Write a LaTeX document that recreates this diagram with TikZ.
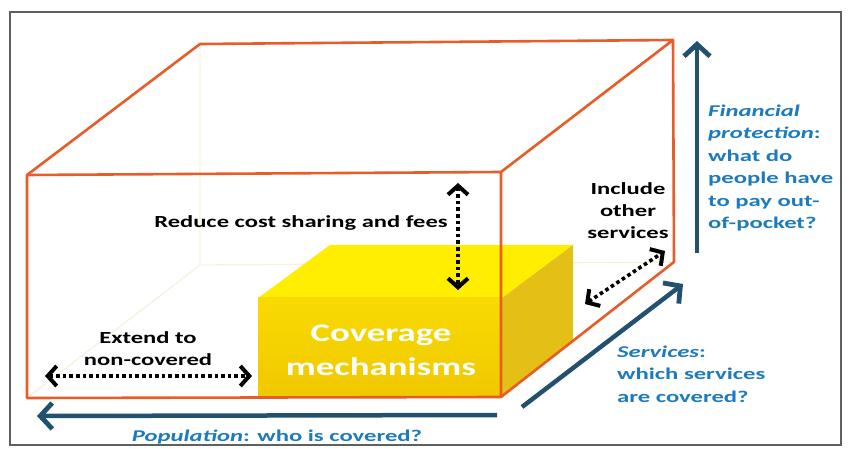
\documentclass[tikz,border=0pt]{standalone}
\usepackage{fontspec}
\setmainfont{Carlito}
\newfontfamily\wf[FakeStretch=1.45]{Carlito}
\newfontfamily\wfb[FakeStretch=1.5]{Carlito}
\usetikzlibrary{arrows.meta}
\definecolor{boxorange}{RGB}{232,92,40}
\definecolor{faint}{RGB}{246,241,222}
\definecolor{arrowblue}{RGB}{33,80,112}
\definecolor{textblue}{RGB}{28,122,190}
\definecolor{ytop}{RGB}{255,238,0}
\definecolor{yfront}{RGB}{248,218,0}
\definecolor{yfrontb}{RGB}{240,200,0}
\definecolor{yside}{RGB}{228,192,22}
\definecolor{framegray}{RGB}{95,95,95}
\begin{document}
\begin{tikzpicture}[x=1bp,y=-1bp,
  boxline/.style={draw=boxorange,line width=2.6bp,line join=round},
  hidden/.style={draw=faint,line width=1.3bp},
  dotarrow/.style={line width=3.6bp,dash pattern=on 3.6bp off 3bp,
    {Straight Barb[length=9bp,width=20bp,line width=4bp]}-{Straight Barb[length=9bp,width=20bp,line width=4bp]}},
  bluearrow/.style={draw=arrowblue,line width=4.5bp,-{Straight Barb[length=12bp,width=26bp,line width=4.8bp]}},
  blacklabel/.style={font=\wf\bfseries\fontsize{17}{22}\selectfont,align=center,inner sep=0pt},
  bluelabel/.style={font=\wfb\bfseries\fontsize{16.5}{22.5}\selectfont,text=textblue,align=left,inner sep=0pt}
]
\useasboundingbox (0,0) rectangle (850,449);
% outer frame
\draw[framegray,line width=1.2bp] (10,12) rectangle (841,445);
% box corners
\coordinate (FTL) at (27,175);
\coordinate (FTR) at (501,172);
\coordinate (FBL) at (27,398);
\coordinate (FBR) at (501,397);
\coordinate (BTL) at (200,44);
\coordinate (BTR) at (673,40);
\coordinate (BBR) at (674,262);
\coordinate (BBL) at (200,265);
% hidden edges
\draw[hidden] (BTL) -- (BBL) -- (BBR);
\draw[hidden] (BBL) -- (FBL);
% block
\fill[ytop] (258,298) -- (330,245) -- (573,245) -- (502,298) -- cycle;
\shade[top color=yfront,bottom color=yfrontb] (258,298) rectangle (502,397);
\fill[yside] (502,298) -- (573,245) -- (573,341) -- (502,397) -- cycle;
% box visible edges
\draw[boxline] (FTL) -- (BTL) -- (BTR) -- (FTR);
\draw[boxline] (BTR) -- (BBR) -- (FBR);
\draw[boxline] (FTL) -- (FTR) -- (FBR) -- (FBL) -- cycle;
% texts
\node[blacklabel] (reduce) at (301,223) {Reduce cost sharing and fees};
\node[blacklabel] (include) at (628,211) {Include\\other\\services};
\node[blacklabel] (extend) at (148,349) {Extend to\\non-covered};
\node[font=\wf\bfseries\fontsize{25.5}{34}\selectfont,text=white,align=center,inner sep=0pt] (coverage) at (381,350) {Coverage\\mechanisms};
\node[bluelabel] (population) at (277,437) {\itshape Population\upshape: who is covered?};
\node[bluelabel,anchor=west] (services) at (617,374) {\itshape Services\upshape:\\which services\\are covered?};
\node[bluelabel,anchor=west] (financial) at (708,168) {\itshape Financial\\\itshape protection\upshape:\\what do\\people have\\to pay out-\\of-pocket?};
% dotted double arrows
\coordinate (rdA) at (458,183);
\coordinate (rdB) at (458,290);
\draw[dotarrow] (rdA) -- (rdB);
\coordinate (exA) at (45,376);
\coordinate (exB) at (252,376);
\draw[dotarrow] (exA) -- (exB);
\coordinate (inA) at (585,304);
\coordinate (inB) at (665,251);
\draw[dotarrow] (inA) -- (inB);
% blue axis arrows
\coordinate (popA) at (497,415);
\coordinate (popB) at (37,416);
\draw[bluearrow] (popA) -- (popB);
\coordinate (srvA) at (522,407);
\coordinate (srvB) at (683,284);
\draw[bluearrow] (srvA) -- (srvB);
\coordinate (finA) at (697,253);
\coordinate (finB) at (697,41);
\draw[bluearrow] (finA) -- (finB);
\end{tikzpicture}
\end{document}
